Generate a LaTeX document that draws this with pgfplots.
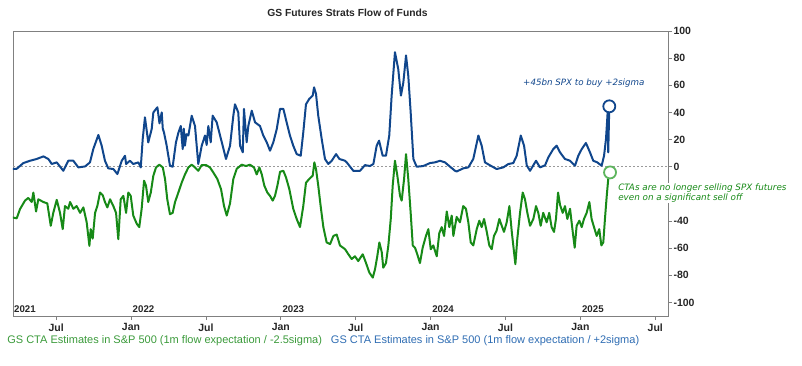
\documentclass[border=0pt]{standalone}
\usepackage{pgfplots}
\pgfplotsset{compat=1.18}
\usepackage{fontspec}
\setmainfont{Liberation Sans}
\newfontfamily\annfont{DejaVu Sans}
\definecolor{bline}{HTML}{10468C}
\definecolor{gline}{HTML}{178A17}
\definecolor{btext}{HTML}{2F6DB3}
\definecolor{gtext}{HTML}{3A9A3A}
\definecolor{gcirc}{HTML}{5DB55D}
\definecolor{axgray}{HTML}{808080}
\begin{document}
\begin{tikzpicture}
\useasboundingbox (0,0) rectangle (802pt,365pt);
\begin{axis}[
  at={(13pt,49pt)}, anchor=south west,
  width=655pt, height=285pt, scale only axis,
  xmin=2021.212, xmax=2025.585, ymin=-110, ymax=100,
  /pgf/number format/assume math mode=true,
  axis line style={axgray, line width=0.9pt},
  every tick/.style={axgray, line width=0.8pt},
  major tick length=4pt,
  tick align=outside,
  xtick pos=bottom, ytick pos=right, yticklabel pos=right,
  xtick={2021.5,2022,2022.5,2023,2023.5,2024,2024.5,2025,2025.5},
  xticklabels={Jul,Jan,Jul,Jan,Jul,Jan,Jul,Jan,Jul},
  ytick={-100,-80,-60,-40,-20,0,20,40,60,80,100},
  yticklabels={-100,-80,-60,-40,,0,20,40,60,80,100},
  ticklabel style={font=\bfseries\fontsize{10.5}{12}\selectfont, text=black!85},
  yticklabel style={anchor=west, xshift=-2pt},
  title={GS Futures Strats Flow of Funds},
  title style={font=\bfseries\fontsize{10.3}{12}\selectfont, at={(0.5,1)}, anchor=base, yshift=9pt, xshift=7pt, text=black!85},
  legend image code/.code={},
  legend style={draw=none, fill=none, at={(-0.012,-0.084)}, anchor=west, legend columns=2,
    font=\fontsize{11}{12}\selectfont, inner sep=0pt,
    /tikz/every even column/.append style={column sep=5pt}},
]
\draw[axgray!80, dash pattern=on 2pt off 2pt, line width=0.6pt] (axis cs:2021.212,0) -- (axis cs:2025.585,0);

\addplot[gline, line width=2pt, line join=round] coordinates {
(2021.210,-37.4)(2021.237,-38)(2021.259,-31.2)(2021.292,-25)(2021.314,-23)(2021.337,-26)
(2021.348,-19)(2021.366,-33)(2021.381,-24)(2021.415,-26)(2021.441,-27)(2021.464,-43.5)
(2021.481,-34)(2021.504,-24.4)(2021.526,-34)(2021.544,-46)(2021.559,-29)(2021.581,-31)
(2021.593,-26)(2021.615,-31)(2021.637,-29)(2021.660,-34)(2021.682,-30)(2021.704,-41)
(2021.722,-58.3)(2021.731,-46)(2021.744,-53)(2021.760,-34)(2021.775,-29)(2021.793,-19)
(2021.811,-21)(2021.826,-26)(2021.842,-30)(2021.860,-24)(2021.882,-29)(2021.900,-34)
(2021.915,-53.4)(2021.931,-24)(2021.949,-21.5)(2021.967,-34)(2021.982,-19)(2021.998,-21.5)
(2022.015,-36)(2022.038,-42)(2022.055,-44.5)(2022.071,-31)(2022.087,-10.3)(2022.100,-14)
(2022.115,-26)(2022.132,-19)(2022.149,-6.6)(2022.167,-0.5)(2022.189,1.5)(2022.212,-0.5)
(2022.227,-9)(2022.242,-24)(2022.260,-35)(2022.278,-34)(2022.294,-26)(2022.316,-19)
(2022.338,-11.8)(2022.360,-5.7)(2022.383,-0.5)(2022.405,1.5)(2022.427,-0.5)(2022.449,-3)
(2022.472,1.2)(2022.501,1.2)(2022.527,-0.5)(2022.549,-4.2)(2022.576,-9)(2022.601,-16.6)
(2022.621,-29)(2022.639,-36)(2022.661,-27)(2022.683,-9)(2022.706,-1.5)(2022.739,1.5)
(2022.768,0.5)(2022.794,1.5)(2022.821,-0.5)(2022.839,-5.7)(2022.857,-0.5)(2022.873,-5.7)
(2022.890,-14)(2022.910,-19)(2022.928,-21.5)(2022.946,-25)(2022.961,-21.5)(2022.977,-14)
(2022.995,-3.7)(2023.017,-3)(2023.035,-8)(2023.057,-16.6)(2023.083,-31)(2023.106,-38.5)
(2023.128,-44.5)(2023.150,-29)(2023.168,-11.8)(2023.190,-9)(2023.213,-6.6)(2023.224,3.2)
(2023.235,-1.7)(2023.250,-14)(2023.266,-29)(2023.284,-44.5)(2023.306,-55.8)(2023.329,-57)
(2023.351,-51)(2023.373,-50)(2023.395,-58)(2023.429,-60.8)(2023.451,-64.5)(2023.473,-68)
(2023.495,-66)(2023.517,-69.5)(2023.547,-64.5)(2023.569,-71)(2023.591,-78)(2023.614,-81.7)
(2023.629,-75.5)(2023.644,-66)(2023.658,-55.8)(2023.674,-63)(2023.684,-74.4)(2023.702,-71)
(2023.718,-58)(2023.734,-38.5)(2023.747,-14)(2023.762,4.4)(2023.778,-6.6)(2023.796,-21.5)
(2023.807,-25)(2023.823,-9)(2023.836,9.3)(2023.851,-9)(2023.867,-34)(2023.881,-58)
(2023.896,-59.7)(2023.911,-64.5)(2023.929,-71)(2023.947,-59.7)(2023.969,-51)(2023.985,-46)
(2024.001,-60.8)(2024.018,-58)(2024.041,-66)(2024.058,-49)(2024.074,-44.5)(2024.090,-51)
(2024.108,-33)(2024.125,-44.5)(2024.141,-36)(2024.152,-51)(2024.174,-37)(2024.196,-41)
(2024.218,-29)(2024.236,-31)(2024.252,-41)(2024.268,-55.8)(2024.285,-58)(2024.308,-46)
(2024.325,-39.8)(2024.341,-44.5)(2024.357,-38.5)(2024.375,-48)(2024.392,-58)(2024.408,-60.8)
(2024.423,-51)(2024.441,-47)(2024.459,-38.5)(2024.475,-43.5)(2024.490,-48)(2024.508,-41)
(2024.526,-29)(2024.542,-48)(2024.557,-63)(2024.566,-71.8)(2024.579,-53)(2024.597,-34)
(2024.615,-19)(2024.630,-24)(2024.646,-34)(2024.664,-43.5)(2024.686,-38.5)(2024.704,-29)
(2024.719,-34)(2024.735,-43.5)(2024.752,-34)(2024.775,-41)(2024.792,-34)(2024.808,-44.5)
(2024.824,-48)(2024.837,-38.5)(2024.851,-19)(2024.864,-28)(2024.882,-34)(2024.897,-29)
(2024.913,-38.5)(2024.931,-31)(2024.949,-48)(2024.962,-59.7)(2024.975,-43.5)(2024.993,-39.8)
(2025.009,-44.5)(2025.024,-38.5)(2025.042,-34)(2025.060,-26)(2025.075,-38.5)(2025.091,-44.5)
(2025.109,-51)(2025.126,-46)(2025.140,-58)(2025.153,-55.8)(2025.164,-38.5)(2025.176,-21.5)
(2025.186,-9)(2025.198,-4.2)
};
\addlegendentry[text=gtext]{GS CTA Estimates in S\&P 500 (1m flow expectation / -2.5sigma)}

\addplot[bline, line width=2pt, line join=round] coordinates {
(2021.210,-1.7)(2021.237,-1.5)(2021.281,2.7)(2021.326,4.4)(2021.370,5.7)(2021.415,7.6)
(2021.448,5.7)(2021.471,2.0)(2021.504,3.2)(2021.548,-3.0)(2021.581,4.4)(2021.615,4.4)
(2021.648,-0.5)(2021.693,0.2)(2021.726,3.2)(2021.748,13)(2021.782,23.4)(2021.804,15.5)
(2021.826,4.4)(2021.848,-1.2)(2021.882,-1.7)(2021.909,-5.4)(2021.938,4.4)(2021.960,8.1)
(2021.967,2.0)(2021.993,4.4)(2022.015,2.0)(2022.049,3.2)(2022.065,-0.5)(2022.078,20.4)
(2022.093,36.4)(2022.115,17.9)(2022.138,27.8)(2022.149,40)(2022.176,43.8)(2022.190,32)
(2022.205,40)(2022.212,28)(2022.220,25.3)(2022.238,15.5)(2022.260,0.7)(2022.278,0)
(2022.300,18)(2022.316,25)(2022.332,30)(2022.345,13)(2022.352,28)(2022.360,15.5)
(2022.370,24)(2022.383,23)(2022.405,37.6)(2022.427,30)(2022.449,2)(2022.472,15.5)
(2022.494,23)(2022.505,16)(2022.516,30)(2022.532,18)(2022.545,37.6)(2022.572,32.7)
(2022.606,18)(2022.634,5.7)(2022.661,15.5)(2022.683,37.6)(2022.694,46)(2022.716,40)
(2022.728,15.5)(2022.746,10.6)(2022.754,42.6)(2022.772,18)(2022.783,30)(2022.806,41.3)
(2022.828,32.7)(2022.861,30)(2022.883,23)(2022.906,18)(2022.928,11.8)(2022.950,18)
(2022.973,27.8)(2022.995,42.6)(2023.017,42.6)(2023.039,32.7)(2023.061,23)(2023.083,15.5)
(2023.106,9.3)(2023.133,8.1)(2023.150,25.3)(2023.168,46)(2023.190,50)(2023.213,52.4)
(2023.222,58.5)(2023.235,53.6)(2023.250,37.6)(2023.273,20.4)(2023.295,5.7)(2023.317,2.0)
(2023.340,4.4)(2023.369,9.3)(2023.391,5.7)(2023.429,4.4)(2023.440,3.2)(2023.484,-3.0)
(2023.529,-3.0)(2023.562,1.2)(2023.595,0.5)(2023.618,2.0)(2023.640,15.5)(2023.656,19.2)
(2023.680,8.1)(2023.702,8.1)(2023.724,23)(2023.740,52.4)(2023.762,84.4)(2023.784,72)
(2023.802,52.4)(2023.818,62)(2023.836,82)(2023.851,67)(2023.867,40)(2023.885,5.7)
(2023.907,0)(2023.951,0.5)(2023.996,2.7)(2024.029,3.2)(2024.063,4.4)(2024.096,3.2)
(2024.130,0)(2024.163,-3.0)(2024.174,-3.5)(2024.218,-1.2)(2024.252,-0.5)(2024.285,5.7)
(2024.319,23)(2024.341,15.5)(2024.363,3.2)(2024.397,1.0)(2024.441,-1.7)(2024.485,-0.5)
(2024.519,2.0)(2024.552,2.7)(2024.575,8.1)(2024.602,23)(2024.624,15.5)(2024.642,1.0)
(2024.664,-3.0)(2024.704,4.4)(2024.730,-0.5)(2024.764,1.0)(2024.786,6.9)(2024.819,13)
(2024.842,15.5)(2024.864,10.6)(2024.897,5.7)(2024.931,4.4)(2024.964,0.7)(2024.986,8.1)
(2025.009,13)(2025.037,17.5)(2025.064,10.6)(2025.086,4.4)(2025.113,3.2)(2025.142,0.7)
(2025.158,8.1)(2025.171,20.4)(2025.182,40)(2025.186,10.6)(2025.193,44.5)
};
\addlegendentry[text=btext]{GS CTA Estimates in S\&P 500 (1m flow expectation / +2sigma)}

\addplot[only marks, mark=*, mark size=6pt, mark options={draw=bline, fill=white, line width=1.8pt}, forget plot] coordinates {(2025.193,44.5)};
\addplot[only marks, mark=*, mark size=6pt, mark options={draw=gcirc, fill=white, line width=1.8pt}, forget plot] coordinates {(2025.198,-4.2)};

\node[anchor=base west, inner sep=0, font=\bfseries\fontsize{9.7}{11}\selectfont, text=black!85] at (axis cs:2021.212,-107.5) {\hspace{1pt}2021};
\node[anchor=base west, inner sep=0, font=\bfseries\fontsize{9.7}{11}\selectfont, text=black!85] at (axis cs:2022.01,-107.5) {2022};
\node[anchor=base west, inner sep=0, font=\bfseries\fontsize{9.7}{11}\selectfont, text=black!85] at (axis cs:2023.01,-107.5) {2023};
\node[anchor=base west, inner sep=0, font=\bfseries\fontsize{9.7}{11}\selectfont, text=black!85] at (axis cs:2024.01,-107.5) {2024};
\node[anchor=base west, inner sep=0, font=\bfseries\fontsize{9.7}{11}\selectfont, text=black!85] at (axis cs:2025.01,-107.5) {2025};

\node[font=\annfont\itshape\fontsize{8.7}{10}\selectfont, text=bline] at (axis cs:2025.023,61.3) {+45bn SPX to buy +2sigma};
\coordinate (gtxt) at (axis cs:2025.245,-11.5);
\end{axis}
\node[anchor=north west, fill=white, inner sep=1pt, align=left, font=\annfont\itshape\fontsize{8.8}{10}\selectfont, text=gline] at (gtxt) {CTAs are no longer selling SPX futures\\even on a significant sell off};
\end{tikzpicture}
\end{document}
